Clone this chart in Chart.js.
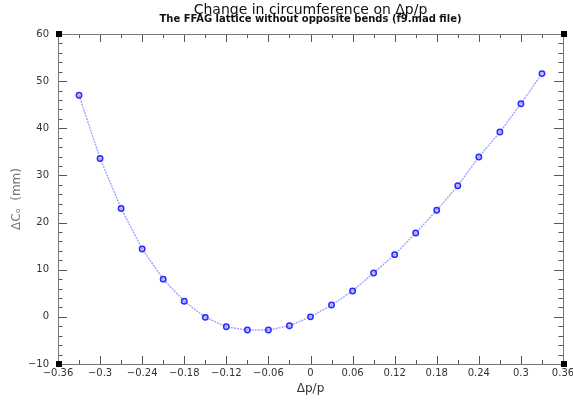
<!DOCTYPE html>
<html><head><meta charset="utf-8">
<style>html,body{margin:0;padding:0;background:#fff;overflow:hidden}#wrap{width:573px;height:401px;position:relative}</style>
<script src="https://cdn.jsdelivr.net/npm/chart.js@4.4.1/dist/chart.umd.min.js"></script>
</head><body><div id="wrap"><canvas id="c" width="573" height="401" style="width:573px;height:401px"></canvas></div>
<script>
// ---- data ----
const dpValues = [-0.33,-0.30,-0.27,-0.24,-0.21,-0.18,-0.15,-0.12,-0.09,-0.06,-0.03,0.00,0.03,0.06,0.09,0.12,0.15,0.18,0.21,0.24,0.27,0.30,0.33];
const dCValues = [47.0,33.6,23.0,14.4,8.0,3.3,-0.1,-2.1,-2.8,-2.8,-1.9,0.0,2.5,5.5,9.3,13.2,17.8,22.6,27.8,33.9,39.2,45.2,51.6];
const xTickValues = [-0.36,-0.30,-0.24,-0.18,-0.12,-0.06,0,0.06,0.12,0.18,0.24,0.30,0.36];
const xTickLabels = ['\u22120.36','\u22120.3','\u22120.24','\u22120.18','\u22120.12','\u22120.06','0','0.06','0.12','0.18','0.24','0.3','0.36'];
const yTickValues = [-10,0,10,20,30,40,50,60];
const yTickLabels = ['\u221210','0','10','20','30','40','50','60'];
const titleText = 'Change in circumference on \u0394p/p';
const subtitleText = 'The FFAG lattice without opposite bends (f9.mad file)';
const xTitle = '\u0394p/p';
const yTitle = '\u0394C\u2092  (mm)';

const points = dpValues.map((x,i)=>({x:x, y:dCValues[i]}));

const framePlugin = {
  id:'frame',
  afterDatasetsDraw(chart){
    const {ctx, chartArea:a, scales:{x, y}} = chart;
    ctx.save();
    ctx.strokeStyle = '#555';
    ctx.lineWidth = 1;
    ctx.beginPath();
    for (let i=0;i<=24;i++){
      const v = -0.36 + i*0.03;
      const px = Math.round(x.getPixelForValue(v)) + 0.5;
      const len = (i%2===0) ? 8 : 4;
      ctx.moveTo(px, a.bottom); ctx.lineTo(px, a.bottom - len);
      ctx.moveTo(px, a.top); ctx.lineTo(px, a.top + len);
    }
    for (let i=0;i<=35;i++){
      const v = -10 + i*2;
      const py = Math.round(y.getPixelForValue(v)) + 0.5;
      const len = (i%5===0) ? 9 : 4.5;
      ctx.moveTo(a.left, py); ctx.lineTo(a.left + len, py);
      ctx.moveTo(a.right, py); ctx.lineTo(a.right - len, py);
    }
    ctx.stroke();
    ctx.strokeStyle = '#777';
    ctx.strokeRect(Math.round(a.left)+0.5, Math.round(a.top)+0.5, Math.round(a.right-a.left), Math.round(a.bottom-a.top));
    ctx.fillStyle = '#000';
    const s = 6;
    [[a.left,a.top],[a.right,a.top],[a.left,a.bottom],[a.right,a.bottom]].forEach(([cx,cy])=>{
      ctx.fillRect(Math.round(cx - s/2)+1, Math.round(cy - s/2), s, s);
    });
    ctx.restore();
  }
};

new Chart(document.getElementById('c'), {
  type:'scatter',
  data:{datasets:[{
    data: points,
    showLine:true,
    borderColor:'rgba(100,100,255,0.6)',
    borderWidth:1.4,
    borderDash:[2,1],
    tension:0,
    pointRadius:2.7,
    pointBackgroundColor:'rgba(140,140,255,0.45)',
    pointBorderColor:'#2a2aff',
    pointBorderWidth:1.5
  }]},
  options:{
    responsive:false,
    animation:false,
    devicePixelRatio:1,
    layout:{padding:0},
    plugins:{
      legend:{display:false},
      tooltip:{enabled:false},
      title:{display:true, text:titleText, color:'#111', fullSize:false,
        font:{family:'DejaVu Sans', size:14, weight:'normal', lineHeight:0.6},
        padding:{top:5.8, bottom:0}},
      subtitle:{display:true, text:subtitleText, color:'#111', fullSize:false,
        font:{family:'DejaVu Sans', size:10, weight:'bold', lineHeight:1},
        padding:{top:0, bottom:9.8}}
    },
    scales:{
      x:{type:'linear', min:-0.36, max:0.36,
        grid:{display:false, drawTicks:false}, border:{display:false},
        afterBuildTicks:(s)=>{ s.ticks = xTickValues.map(v=>({value:v})); },
        afterFit:(s)=>{ s.height = 37; s.paddingLeft = 0; s.paddingRight = 10; },
        ticks:{autoSkip:false, maxRotation:0, padding:3, color:'#333',
          font:{family:'DejaVu Sans', size:10},
          callback:(v,i)=>xTickLabels[i]},
        title:{display:true, text:xTitle, color:'#333',
          font:{family:'DejaVu Sans', size:12}, padding:{top:0,bottom:4.8}}
      },
      y:{type:'linear', min:-10, max:60,
        grid:{display:false, drawTicks:false}, border:{display:false},
        afterBuildTicks:(s)=>{ s.ticks = yTickValues.map(v=>({value:v})); },
        afterFit:(s)=>{ s.width = 58; s.paddingTop = 0; s.paddingBottom = 0; },
        ticks:{autoSkip:false, padding:9, color:'#333',
          font:{family:'DejaVu Sans', size:10},
          callback:(v,i)=>yTickLabels[i]},
        title:{display:true, text:yTitle, color:'#777',
          font:{family:'DejaVu Sans', size:12}, padding:{top:9.5,bottom:0}}
      }
    }
  },
  plugins:[framePlugin]
});
</script>
</body></html>
